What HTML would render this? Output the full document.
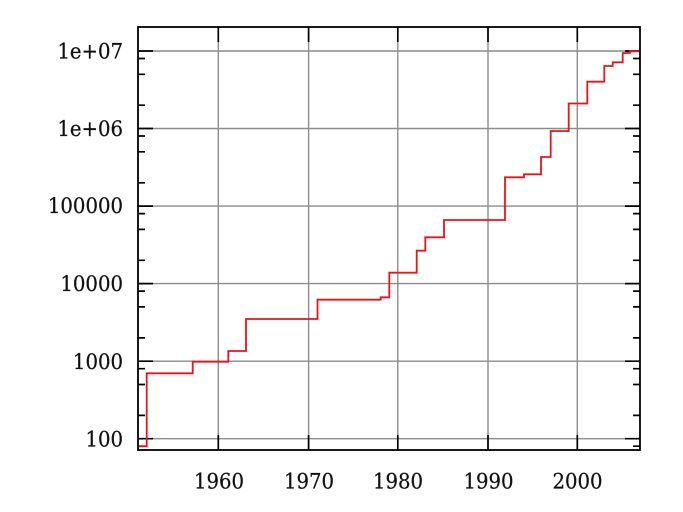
<!DOCTYPE html>
<html><head><meta charset="utf-8"><style>
html,body{margin:0;padding:0;background:#fff;}
svg{display:block;}
text{font-family:"DejaVu Serif","Liberation Serif",serif;font-size:21.4px;fill:#111;stroke:#111;stroke-width:0.25;}
</style></head><body>
<svg width="683" height="512" viewBox="0 0 683 512" xmlns="http://www.w3.org/2000/svg">
<rect width="683" height="512" fill="#fff"/>
<!-- grid -->
<g stroke="#8c8c8c" stroke-width="1.4" fill="none">
<line x1="138" x2="640" y1="51" y2="51"/>
<line x1="138" x2="640" y1="128.5" y2="128.5"/>
<line x1="138" x2="640" y1="206.1" y2="206.1"/>
<line x1="138" x2="640" y1="283.6" y2="283.6"/>
<line x1="138" x2="640" y1="361.2" y2="361.2"/>
<line x1="138" x2="640" y1="438.7" y2="438.7"/>
<line x1="218.3" x2="218.3" y1="27" y2="450"/>
<line x1="308.6" x2="308.6" y1="27" y2="450"/>
<line x1="397.8" x2="397.8" y1="27" y2="450"/>
<line x1="488" x2="488" y1="27" y2="450"/>
<line x1="577.3" x2="577.3" y1="27" y2="450"/>
</g>
<!-- ticks -->
<g stroke="#000" stroke-width="1.7" fill="none">
<path d="M138,51h15M138,128.5h15M138,206.1h15M138,283.6h15M138,361.2h15M138,438.7h15"/>
<path d="M640,51h-15M640,128.5h-15M640,206.1h-15M640,283.6h-15M640,361.2h-15M640,438.7h-15"/>
<path d="M138,58.5h7M138,74.3h7M138,105.2h7
M138,136h7M138,151.8h7M138,182.8h7
M138,213.6h7M138,229.4h7M138,260.3h7
M138,291.1h7M138,306.9h7M138,337.9h7
M138,368.7h7M138,384.5h7M138,415.4h7
M138,446.2h7"/>
<path d="M640,58.5h-7M640,74.3h-7M640,105.2h-7
M640,136h-7M640,151.8h-7M640,182.8h-7
M640,213.6h-7M640,229.4h-7M640,260.3h-7
M640,291.1h-7M640,306.9h-7M640,337.9h-7
M640,368.7h-7M640,384.5h-7M640,415.4h-7
M640,446.2h-7"/>
<path d="M218.3,27v15M308.6,27v15M397.8,27v15M488,27v15M577.3,27v15"/>
<path d="M218.3,450v-15M308.6,450v-15M397.8,450v-15M488,450v-15M577.3,450v-15"/>
</g>
<!-- data -->
<path fill="none" stroke="#e8141c" stroke-width="1.8" stroke-linejoin="miter"
d="M138,446.3 H146.7 V373.3 H192.7 V361.7 H228.3 V351 H246 V319 H317.5 V299.7 H380.7 V297.3 H389.3 V272.7 H416.7 V250.7 H425.3 V237.3 H444 V220 H505 V177.3 H524 V174.3 H541 V157 H550.7 V131 H568.7 V103.5 H587.3 V81.7 H604.3 V66 H612.7 V62.3 H622.7 V53 H630 V51.3 H640"/>
<!-- frame -->
<rect x="138" y="27" width="502" height="423" fill="none" stroke="#000" stroke-width="1.8"/>
<!-- y labels -->
<g text-anchor="end">
<text transform="translate(123,58.6) scale(0.92,1)">1e+07</text>
<text transform="translate(123,136.1) scale(0.92,1)">1e+06</text>
<text transform="translate(123,213) scale(0.92,1)">100000</text>
<text transform="translate(123,291.2) scale(0.92,1)">10000</text>
<text transform="translate(123,368.8) scale(0.92,1)">1000</text>
<text transform="translate(123,446.3) scale(0.92,1)">100</text>
</g>
<!-- x labels -->
<g text-anchor="middle">
<text transform="translate(219,488.5) scale(0.92,1)">1960</text>
<text transform="translate(309,488.5) scale(0.92,1)">1970</text>
<text transform="translate(398,488.5) scale(0.92,1)">1980</text>
<text transform="translate(488.5,488.5) scale(0.92,1)">1990</text>
<text transform="translate(577.5,488.5) scale(0.92,1)">2000</text>
</g>
</svg>
</body></html>
